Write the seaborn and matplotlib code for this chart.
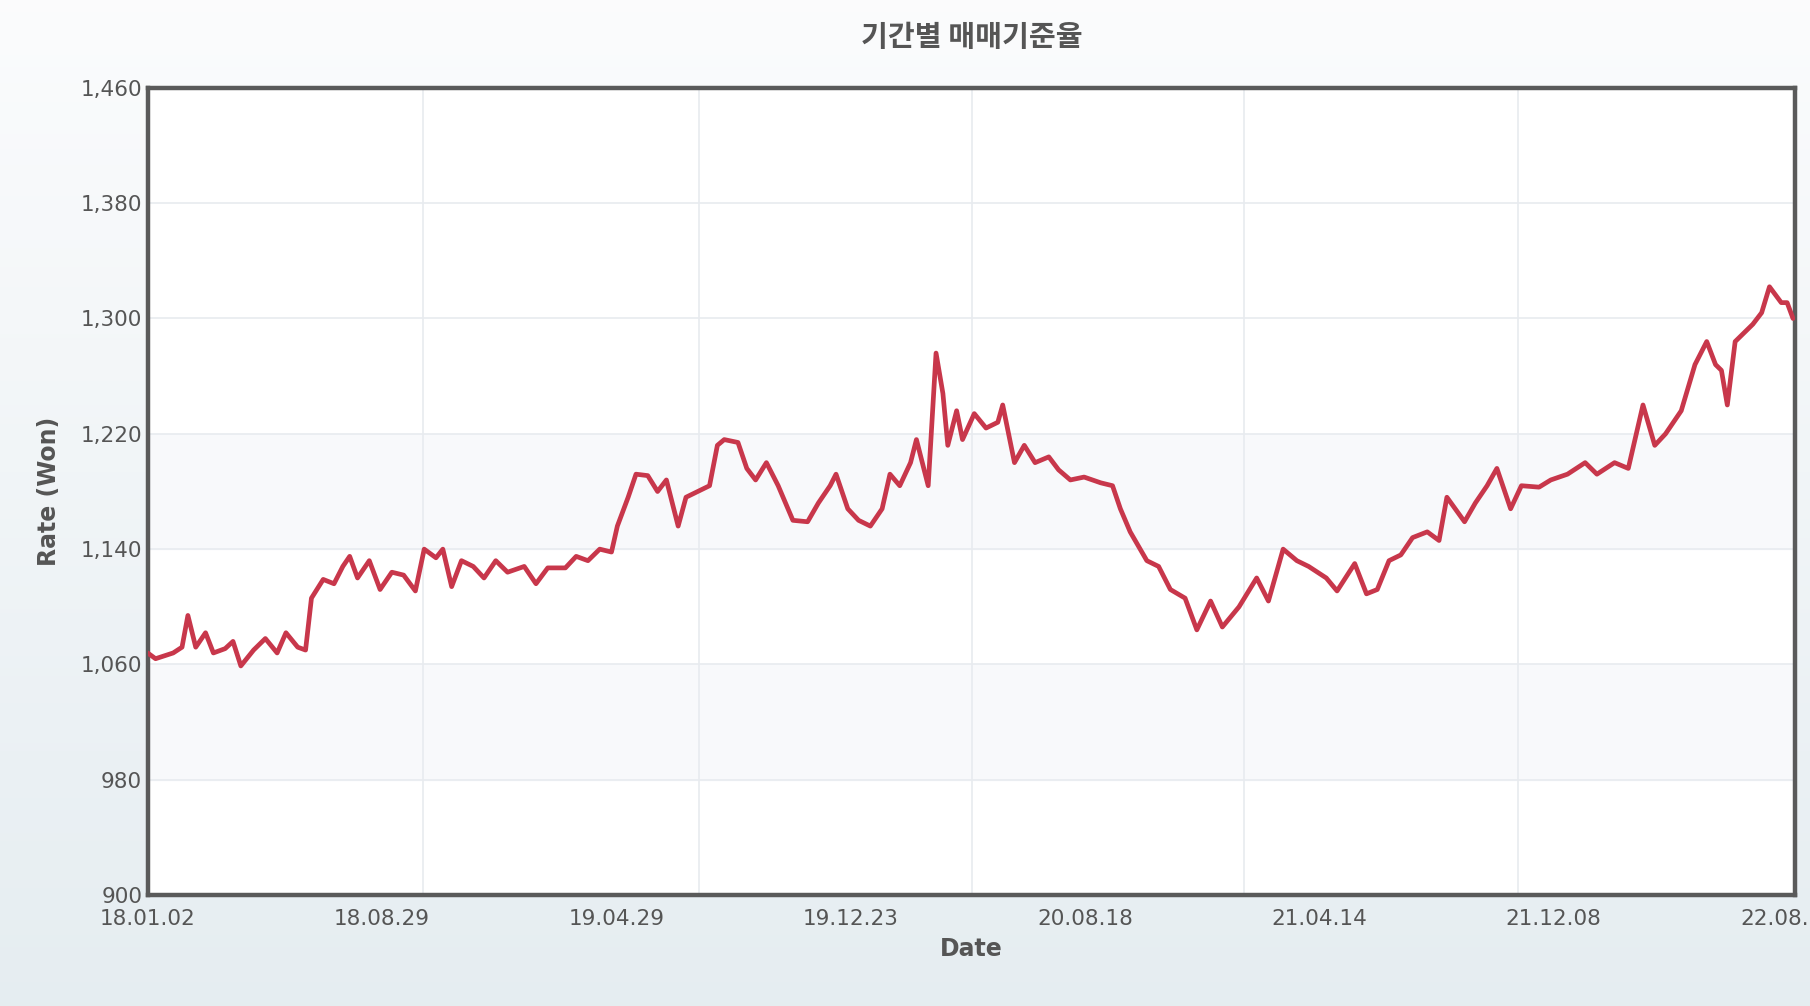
import matplotlib.pyplot as plt
import numpy as np
import pandas as pd
import seaborn as sns

sns.set_theme(style="white")
plt.rcParams['font.family'] = ['Noto Sans CJK KR', 'DejaVu Sans']

# values
start_date = "2018-01-02"
day_offset = [0, 8, 26, 35, 41, 49, 59, 67, 79, 87, 95, 108, 120, 132, 141, 153, 161, 167, 179, 190,
              199, 206, 214, 226, 237, 249, 261, 273, 282, 294, 301, 310, 320, 332, 343, 355, 367, 384,
              396, 408, 426, 437, 449, 461, 473, 479, 490, 498, 510, 520, 529, 541, 549, 561, 573, 581,
              588, 602, 611, 620, 631, 643, 658, 673, 684, 696, 702, 714, 725, 737, 749, 757, 767, 778,
              784, 796, 804, 811, 816, 825, 831, 843, 855, 867, 872, 884, 894, 905, 919, 929, 941, 955,
              972, 984, 992, 1002, 1019, 1031, 1043, 1058, 1070, 1084, 1096, 1113, 1131, 1143, 1158,
              1172, 1184, 1202, 1213, 1231, 1243, 1254, 1266, 1278, 1290, 1305, 1317, 1325, 1343, 1354,
              1366, 1376, 1390, 1401, 1419, 1431, 1448, 1466, 1478, 1496, 1510, 1525, 1537, 1548, 1564,
              1578, 1590, 1599, 1605, 1611, 1619, 1637, 1646, 1654, 1666, 1672, 1678]
rate = [1068, 1064, 1068, 1072, 1094, 1072, 1082, 1068, 1071, 1076, 1059, 1070, 1078, 1068, 1082, 1072,
        1070, 1106, 1119, 1116, 1128, 1135, 1120, 1132, 1112, 1124, 1122, 1111, 1140, 1134, 1140, 1114,
        1132, 1128, 1120, 1132, 1124, 1128, 1116, 1127, 1127, 1135, 1132, 1140, 1138, 1156, 1176, 1192,
        1191, 1180, 1188, 1156, 1176, 1180, 1184, 1212, 1216, 1214, 1196, 1188, 1200, 1184, 1160, 1159,
        1172, 1184, 1192, 1168, 1160, 1156, 1168, 1192, 1184, 1200, 1216, 1184, 1276, 1248, 1212, 1236,
        1216, 1234, 1224, 1228, 1240, 1200, 1212, 1200, 1204, 1195, 1188, 1190, 1186, 1184, 1168, 1152,
        1132, 1128, 1112, 1106, 1084, 1104, 1086, 1100, 1120, 1104, 1140, 1132, 1128, 1120, 1111, 1130,
        1109, 1112, 1132, 1136, 1148, 1152, 1146, 1176, 1159, 1172, 1184, 1196, 1168, 1184, 1183, 1188,
        1192, 1200, 1192, 1200, 1196, 1240, 1212, 1220, 1236, 1268, 1284, 1268, 1264, 1240, 1284, 1296,
        1304, 1322, 1311, 1311, 1300]
y_ticks = [900, 980, 1060, 1140, 1220, 1300, 1380, 1460]
x_tick_labels = ["18.01.02", "18.08.29", "19.04.29", "19.12.23", "20.08.18", "21.04.14", "21.12.08", "22.08.03"]
label_step_days = 239
grid_days = [281, 562, 841, 1118, 1398]

t0 = pd.Timestamp(start_date)
df = pd.DataFrame({"Date": t0 + pd.to_timedelta(day_offset, unit="D"), "Rate": rate})

fig = plt.figure(figsize=(18.1, 10.06), dpi=100)
# background gradient
bg = fig.add_axes([0, 0, 1, 1], zorder=-10)
grad = np.linspace(0, 1, 256).reshape(-1, 1)
top = np.array([0.985, 0.988, 0.992])
bot = np.array([0.90, 0.93, 0.945])
img = top + (bot - top) * grad[:, :, None]
bg.imshow(img, aspect="auto", extent=[0, 1, 0, 1])
bg.axis("off")

ax = fig.add_axes([0.0816, 0.1102, 0.9101, 0.8025])
ax.set_facecolor("white")
for lo in [980, 1140]:
    ax.axhspan(lo, lo + 80, color="#f8f9fb", zorder=0)

sns.lineplot(data=df, x="Date", y="Rate", ax=ax, color="#c8374b", linewidth=3.4, zorder=3)

ax.set_xlim(t0, t0 + pd.Timedelta(days=1680))
ax.set_ylim(900, 1460)
ax.set_yticks(y_ticks)
ax.set_yticklabels([f"{v:,}" for v in y_ticks], family="DejaVu Sans")
ax.set_xticks([t0 + pd.Timedelta(days=label_step_days * k) for k in range(len(x_tick_labels))])
ax.set_xticklabels(x_tick_labels, family="DejaVu Sans")
ax.set_xticks([t0 + pd.Timedelta(days=d) for d in grid_days], minor=True)
ax.grid(axis="y", color="#e8ebef", linewidth=1.2)
ax.grid(axis="x", which="minor", color="#e8ebef", linewidth=1.2)
ax.tick_params(axis="both", which="major", labelsize=15.5, colors="#555555", length=0)
ax.tick_params(axis="y", pad=4)
ax.tick_params(axis="x", pad=10)
ax.tick_params(axis="x", which="minor", length=0)
for s in ax.spines.values():
    s.set_color("#5a5a5a")
    s.set_linewidth(3.2)

ax.set_xlabel("Date", fontsize=17, fontweight="bold", color="#555555", labelpad=6, family="DejaVu Sans")
ax.set_ylabel("Rate (Won)", fontsize=17, fontweight="bold", color="#555555", labelpad=14, family="DejaVu Sans")
fig.text(0.537, 0.963, "기간별 매매기준율", ha="center", va="center",
         fontsize=21, fontweight="bold", color="#555555")

fig.savefig("out.png", dpi=100)
